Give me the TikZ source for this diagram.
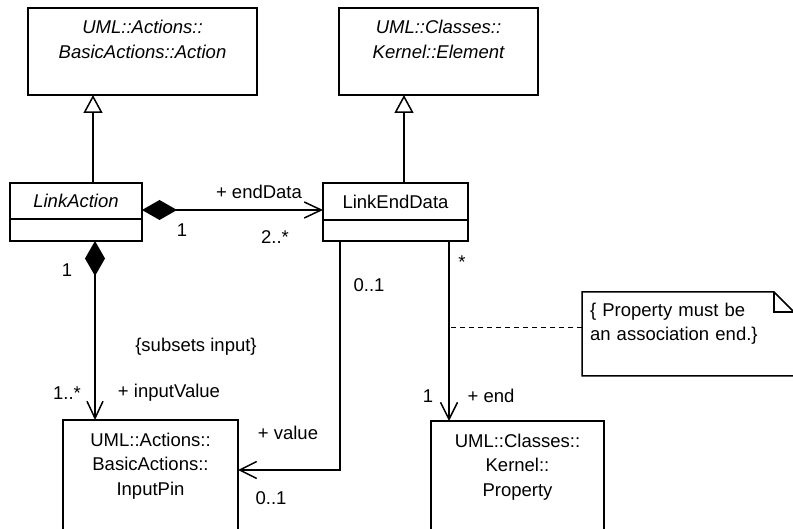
\documentclass[tikz,border=0pt]{standalone}
\usepackage{fontspec}
\setmainfont{Liberation Sans}
\usepackage{tikz}
\usetikzlibrary{arrows.meta,positioning}

\begin{document}
\begin{tikzpicture}[
  x=1pt,y=-1pt,
  every node/.style={font=\fontsize{18.5}{24.5}\selectfont},
  abstr/.style={rectangle,draw=black,line width=1.5pt,outer sep=0pt,inner sep=0pt,align=center,minimum height=87pt,font=\fontsize{18.5}{24.5}\selectfont\itshape},
  cls/.style={rectangle,draw=black,line width=1.5pt,outer sep=0pt,inner sep=0pt,align=center},
  ops/.style={rectangle,draw=black,line width=1.5pt,outer sep=0pt,inner sep=0pt},
  refcls/.style={rectangle,draw=black,line width=1.5pt,outer sep=0pt,inner sep=0pt,align=center,minimum height=113pt},
  memo/.style={rectangle,outer sep=0pt,inner xsep=8pt,inner ysep=0pt,text width=196pt,minimum height=84pt,align=left},
  lbl/.style={inner sep=0pt},
  gen/.style={-{Triangle[open,length=18pt,width=19pt]},line width=1.5pt},
  comp/.style={{Diamond[length=35pt,width=20pt]}-{Straight Barb[length=17pt,width=16pt]},line width=1.5pt},
  nav/.style={-{Straight Barb[length=17pt,width=17pt]},line width=1.5pt},
  link/.style={dashed,dash pattern=on 5pt off 4pt,line width=1pt}
]
  \useasboundingbox (0,0) rectangle (793,529);
  \fill[white] (0,0) rectangle (793,529);
  \clip (0,0) rectangle (793,529);

  % superclasses
  \node[abstr,minimum width=229pt] (action) at (142.5,51.5) {UML::Actions::\\BasicActions::Action\\~};
  \node[abstr,minimum width=199pt] (element) at (438.5,51.5) {UML::Classes::\\Kernel::Element\\~};

  % link classes
  \node[cls,minimum width=132pt,minimum height=36pt,font=\fontsize{18.5}{24.5}\selectfont\itshape] (linkaction) at (76,201) {LinkAction};
  \node[ops,minimum width=132pt,minimum height=22pt,below=0pt of linkaction] (linkactionops) {};
  \node[cls,minimum width=145pt,minimum height=37pt] (linkend) at (395.5,201.5) {LinkEndData};
  \node[ops,minimum width=145pt,minimum height=21pt,below=0pt of linkend] (linkendops) {};

  % referenced classes
  \node[refcls,minimum width=175pt] (inputpin) at (150.5,476.5) {UML::Actions::\\BasicActions::\\InputPin\\~};
  \node[refcls,minimum width=173pt] (property) at (517.5,477.5) {UML::Classes::\\Kernel::\\Property\\~};

  % constraint note
  \node[memo] (constraint) at (688,334) {\{ Property must be\\an association end.\}\\~};
  \draw[line width=1.5pt] (constraint.north west) -- ([xshift=-20pt]constraint.north east)
    -- ([yshift=-20pt]constraint.north east) -- (constraint.south east)
    -- (constraint.south west) -- cycle;
  \draw[line width=1.5pt] ([xshift=-20pt]constraint.north east) |- ([yshift=-20pt]constraint.north east);

  % generalizations
  \draw[gen] ([xshift=17pt]linkaction.north) -- ([xshift=17pt]linkaction.north |- action.south);
  \draw[gen] ([xshift=8.5pt]linkend.north) -- ([xshift=8.5pt]linkend.north |- element.south);

  % associations
  \draw[comp] ([yshift=-9pt]linkaction.east) -- ([yshift=-9pt]linkaction.east -| linkend.west);
  \draw[comp] ([xshift=19pt]linkactionops.south) -- ([xshift=19pt]linkactionops.south |- inputpin.north);
  \draw[nav] ([xshift=-55.5pt]linkendops.south) |- ([yshift=6.5pt]inputpin.east);
  \coordinate (endline) at ([xshift=53.5pt]linkendops.south);
  \draw[nav] (endline) -- (endline |- property.north);
  \draw[link] ([yshift=6pt]constraint.west) -- ([yshift=6pt]constraint.west -| endline);

  % role names and multiplicities
  \node[lbl] (rEndData) at (259,192) {+ endData};
  \node[lbl] (mActionOne) at (182,230) {1};
  \node[lbl] (mEndData) at (275,237) {2..*};
  \node[lbl] (mOwnerOne) at (67,270) {1};
  \node[lbl] (cSubsets) at (196,347) {\{subsets input\}};
  \node[lbl] (mInputValue) at (67,393) {1..*};
  \node[lbl] (rInputValue) at (169,393) {+ inputValue};
  \node[lbl] (mValueSrc) at (369,285) {0..1};
  \node[lbl] (rValue) at (288,433) {+ value};
  \node[lbl] (mValue) at (271,498) {0..1};
  \node[lbl] (mEndMany) at (462,262) {*};
  \node[lbl] (mEndOne) at (428,396) {1};
  \node[lbl] (rEnd) at (491,396) {+ end};
\end{tikzpicture}
\end{document}
